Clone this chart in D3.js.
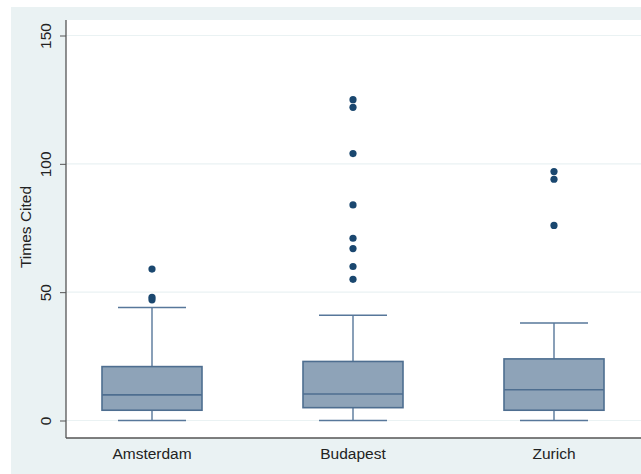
<!DOCTYPE html>
<html>
<head>
<meta charset="utf-8">
<script src="https://cdn.jsdelivr.net/npm/d3@7"></script>
<style>
  html, body { margin: 0; padding: 0; background: #ffffff; }
  svg { display: block; font-family: "Liberation Sans", Arial, sans-serif; }
</style>
</head>
<body>
<svg id="chart" width="641" height="474"></svg>
<script>
// Citation counts summarised per city
const cities = ["Amsterdam", "Budapest", "Zurich"];
const lowerWhisker = [0, 0, 0];
const q1 = [4, 5, 4];
const medians = [10, 10.3, 12];
const q3 = [21, 23, 24];
const upperWhisker = [44, 41, 38];
const outliers = [
  [47, 48, 59],
  [55, 60, 67, 71, 84, 104, 122, 125],
  [76, 94, 97]
];
const yTicks = [0, 50, 100, 150];

const svg = d3.select("#chart");
const W = 641, H = 474;

// Graph region and plot region
const plot = { left: 66, top: 20, right: 641, bottom: 438 };

svg.append("rect").attr("x", 11).attr("y", 7)
  .attr("width", W - 11).attr("height", H - 7).attr("fill", "#eaf2f3");
svg.append("rect").attr("x", plot.left).attr("y", plot.top)
  .attr("width", plot.right - plot.left).attr("height", plot.bottom - plot.top)
  .attr("fill", "#ffffff");

const y = d3.scaleLinear().domain([0, 150]).range([420.5, 35.5]);
const x = d3.scalePoint().domain(cities).range([152, 554]);

// Horizontal grid lines
svg.append("g").selectAll("line").data(yTicks).join("line")
  .attr("x1", plot.left).attr("x2", plot.right)
  .attr("y1", d => y(d)).attr("y2", d => y(d))
  .attr("stroke", "#eaf2f3").attr("stroke-width", 1.2);

// Y axis
const yAxis = d3.axisLeft(y).tickValues(yTicks).tickSize(6).tickPadding(8).tickSizeOuter(0);
const gy = svg.append("g").attr("transform", `translate(${plot.left},0)`).call(yAxis);
gy.select(".domain").remove();
gy.selectAll(".tick line").attr("stroke", "#555").attr("stroke-width", 1);
gy.selectAll(".tick text")
  .attr("font-size", 15.5).attr("fill", "#222")
  .attr("text-anchor", "middle")
  .attr("transform", d => `rotate(-90,-20,0)`)
  .attr("x", -20).attr("dy", "0.35em");

// Axis lines
svg.append("line").attr("x1", plot.left).attr("x2", plot.left)
  .attr("y1", plot.top).attr("y2", plot.bottom)
  .attr("stroke", "#555").attr("stroke-width", 1.3);
svg.append("line").attr("x1", plot.left).attr("x2", plot.right)
  .attr("y1", plot.bottom).attr("y2", plot.bottom)
  .attr("stroke", "#555").attr("stroke-width", 1.3);

// Y axis title
svg.append("text")
  .attr("transform", `translate(31,227) rotate(-90)`)
  .attr("text-anchor", "middle")
  .attr("font-size", 15.5).attr("fill", "#222")
  .text("Times Cited");

// Category labels
svg.append("g").selectAll("text").data(cities).join("text")
  .attr("x", d => x(d)).attr("y", 459)
  .attr("text-anchor", "middle")
  .attr("font-size", 15.5).attr("fill", "#222")
  .text(d => d);

// Box plots
const boxW = 100, capW = 68;
const lineColor = "#57779a";
const g = svg.append("g");
cities.forEach((c, i) => {
  const cx = x(c);
  // whiskers
  g.append("line").attr("x1", cx).attr("x2", cx)
    .attr("y1", y(q3[i])).attr("y2", y(upperWhisker[i]))
    .attr("stroke", lineColor).attr("stroke-width", 1.4);
  g.append("line").attr("x1", cx).attr("x2", cx)
    .attr("y1", y(q1[i])).attr("y2", y(lowerWhisker[i]))
    .attr("stroke", lineColor).attr("stroke-width", 1.4);
  g.append("line").attr("x1", cx - capW / 2).attr("x2", cx + capW / 2)
    .attr("y1", y(upperWhisker[i])).attr("y2", y(upperWhisker[i]))
    .attr("stroke", lineColor).attr("stroke-width", 1.4);
  g.append("line").attr("x1", cx - capW / 2).attr("x2", cx + capW / 2)
    .attr("y1", y(lowerWhisker[i])).attr("y2", y(lowerWhisker[i]))
    .attr("stroke", lineColor).attr("stroke-width", 1.4);
  // box
  g.append("rect").attr("x", cx - boxW / 2).attr("y", y(q3[i]))
    .attr("width", boxW).attr("height", y(q1[i]) - y(q3[i]))
    .attr("fill", "#8ea3b8").attr("stroke", "#4e6e90").attr("stroke-width", 1.6);
  // median
  g.append("line").attr("x1", cx - boxW / 2).attr("x2", cx + boxW / 2)
    .attr("y1", y(medians[i])).attr("y2", y(medians[i]))
    .attr("stroke", "#4e6e90").attr("stroke-width", 1.6);
  // outliers
  g.append("g").selectAll("circle").data(outliers[i]).join("circle")
    .attr("cx", cx).attr("cy", d => y(d)).attr("r", 3.6)
    .attr("fill", "#1a476f");
});
</script>
</body>
</html>
